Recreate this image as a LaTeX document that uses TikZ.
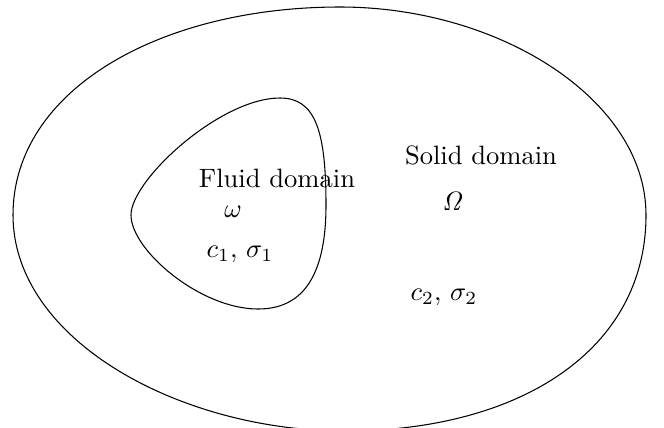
\documentclass[tikz,border=0pt]{standalone}
\usepackage{amsmath}
\usepackage{tikz}
\tikzset{
  bnd/.style={draw, line width=0.4pt},
  lbl/.style={inner sep=0pt, font=\normalsize}
}

\begin{document}
\begin{tikzpicture}[x=0.3766pt, y=-0.3766pt]
  \useasboundingbox (0,0) rectangle (664,427);
  % outer boundary (solid)
  \draw[bnd] (340,7) .. controls (500,7) and (646,100) .. (646,215)
    .. controls (646,350) and (520,431) .. (345,431)
    .. controls (180,431) and (13,340) .. (13,215)
    .. controls (13,90) and (160,7) .. cycle;
  % inner boundary (fluid)
  \draw[bnd] (280,98) .. controls (315,98) and (326,130) .. (326,205)
    .. controls (326,280) and (300,309) .. (258,309)
    .. controls (200,309) and (131,250) .. (131,215)
    .. controls (131,180) and (220,98) .. cycle;

  \node[lbl] (fluid) at (277,178) {Fluid domain};
  \node[lbl] (omg)   at (233,212) {$\omega$};
  \node[lbl] (par1)  at (240,254) {$c_1,\,\sigma_1$};
  \node[lbl] (solid) at (481,155) {Solid domain};
  \node[lbl] (Omg)   at (453,201) {$\mathit{\Omega}$};
  \node[lbl] (par2)  at (444,297) {$c_2,\,\sigma_2$};
\end{tikzpicture}
\end{document}
